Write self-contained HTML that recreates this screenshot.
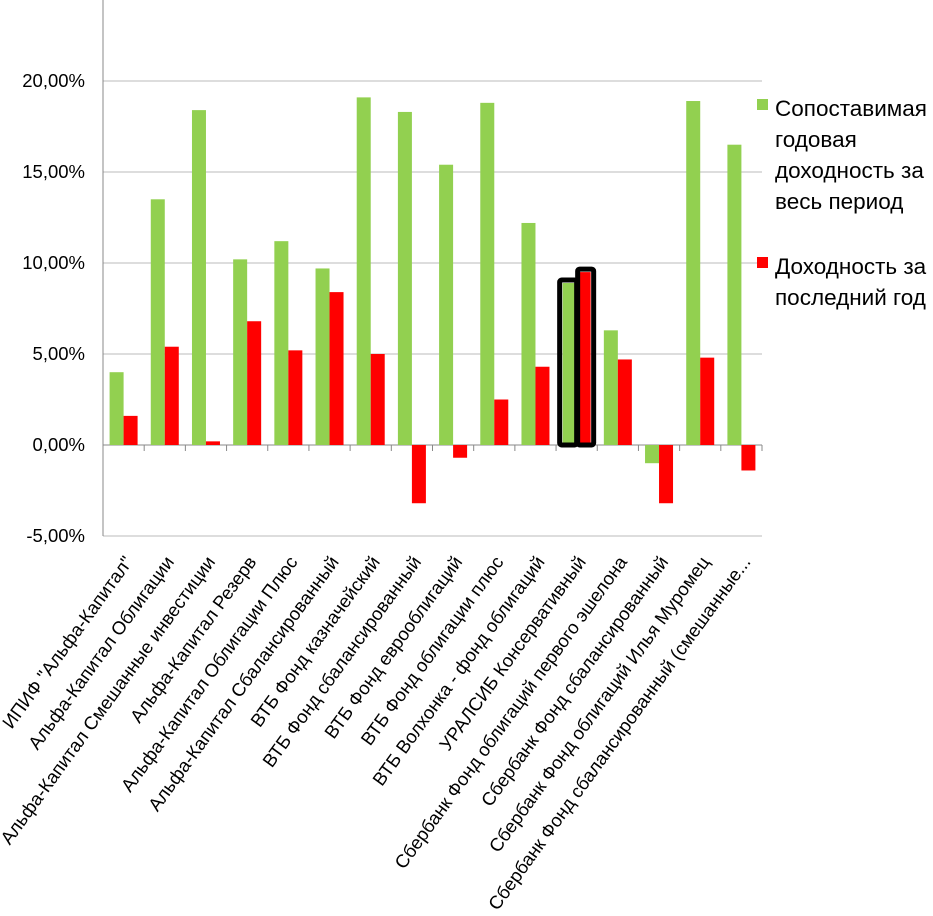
<!DOCTYPE html>
<html><head><meta charset="utf-8"><style>
body{margin:0;background:#fff;}
svg{display:block;font-family:"Liberation Sans","DejaVu Sans",sans-serif;}
</style></head><body>
<svg id="chart" width="933" height="916" viewBox="0 0 933 916" xmlns="http://www.w3.org/2000/svg"></svg>
<script>
const categories = ['ИПИФ "Альфа-Капитал"','Альфа-Капитал Облигации','Альфа-Капитал Смешанные инвестиции','Альфа-Капитал Резерв','Альфа-Капитал Облигации Плюс','Альфа-Капитал Сбалансированный','ВТБ Фонд казначейский','ВТБ Фонд сбалансированный','ВТБ Фонд еврооблигаций','ВТБ Фонд облигации плюс','ВТБ Волхонка - фонд облигаций','УРАЛСИБ Консервативный','Сбербанк Фонд облигаций первого эшелона','Сбербанк Фонд сбалансированный','Сбербанк Фонд облигаций Илья Муромец','Сбербанк Фонд сбалансированный (смешанные...'];
const annualReturns = [4.0,13.5,18.4,10.2,11.2,9.7,19.1,18.3,15.4,18.8,12.2,8.9,6.3,-1.0,18.9,16.5];
const lastYearReturns = [1.6,5.4,0.2,6.8,5.2,8.4,5.0,-3.2,-0.7,2.5,4.3,9.5,4.7,-3.2,4.8,-1.4];
const yTicks = [-5,0,5,10,15,20];
const yTickLabels = ['-5,00%','0,00%','5,00%','10,00%','15,00%','20,00%'];
const highlighted = [11];

const NS='http://www.w3.org/2000/svg';
const svg=document.getElementById('chart');
const X0=103,X1=762,Y0=445,PX=18.2;
const gw=(X1-X0)/categories.length;
function y(v){return Y0-v*PX;}
function mk(t,a,p){const e=document.createElementNS(NS,t);for(const k in a)e.setAttribute(k,a[k]);(p||svg).appendChild(e);return e;}

yTicks.forEach((t,i)=>{
  const g=mk('line',{x1:X0,x2:X1,y1:y(t),y2:y(t),stroke:t===0?'#888':'#bbb','stroke-width':1});
  
  
  const tl=mk('text',{x:85,y:y(t)+6,'text-anchor':'end','font-size':18.5,fill:'#000'});
  tl.textContent=yTickLabels[i];
  
  
});
const ax=mk('line',{x1:X0,x2:X0,y1:0,y2:y(-5),stroke:'#888'});



categories.forEach((c,i)=>{
  const gx=X0+i*gw;
  const tk=mk('line',{x1:gx+gw,x2:gx+gw,y1:Y0,y2:Y0+6,stroke:'#888'});
  
  
  const bw=14, bx=gx+(gw-2*bw)/2;
  const a=annualReturns[i], b=lastYearReturns[i];
  const g=mk('rect',{x:bx,y:Math.min(y(a),Y0),width:bw,height:Math.abs(y(a)-Y0),fill:'#92d050'});
  
  
  const r=mk('rect',{x:bx+bw,y:Math.min(y(b),Y0),width:bw,height:Math.abs(y(b)-Y0),fill:'#ff0000'});
  
  
  if(highlighted.includes(i)){
    const h1=mk('rect',{x:bx-3,y:y(a)-3,width:bw+3,height:Y0-y(a)+3,fill:'none',stroke:'#000','stroke-width':5,rx:2});
    
    
    const h2=mk('rect',{x:bx+bw+1,y:y(b)-3,width:bw+2,height:Y0-y(b)+3,fill:'none',stroke:'#000','stroke-width':5,rx:2});
    
    
  }
  const cx=gx+gw/2+10, cy=562;
  const t=mk('text',{x:cx,y:cy,'text-anchor':'end','font-size':18.5,fill:'#000',transform:`rotate(-54 ${cx} ${cy})`});
  t.textContent=c;
  
  
});

const l1=mk('rect',{x:757,y:99,width:11,height:11,fill:'#92d050'});


['Сопоставимая','годовая','доходность за','весь период'].forEach((s,i)=>{
  const t=mk('text',{x:775,y:116+i*31,'font-size':22.5,fill:'#000'});t.textContent=s;
  
  
});
const l2=mk('rect',{x:757,y:257,width:11,height:11,fill:'#ff0000'});


['Доходность за','последний год'].forEach((s,i)=>{
  const t=mk('text',{x:775,y:274+i*31,'font-size':22.5,fill:'#000'});t.textContent=s;
  
  
});
</script>
</body></html>
